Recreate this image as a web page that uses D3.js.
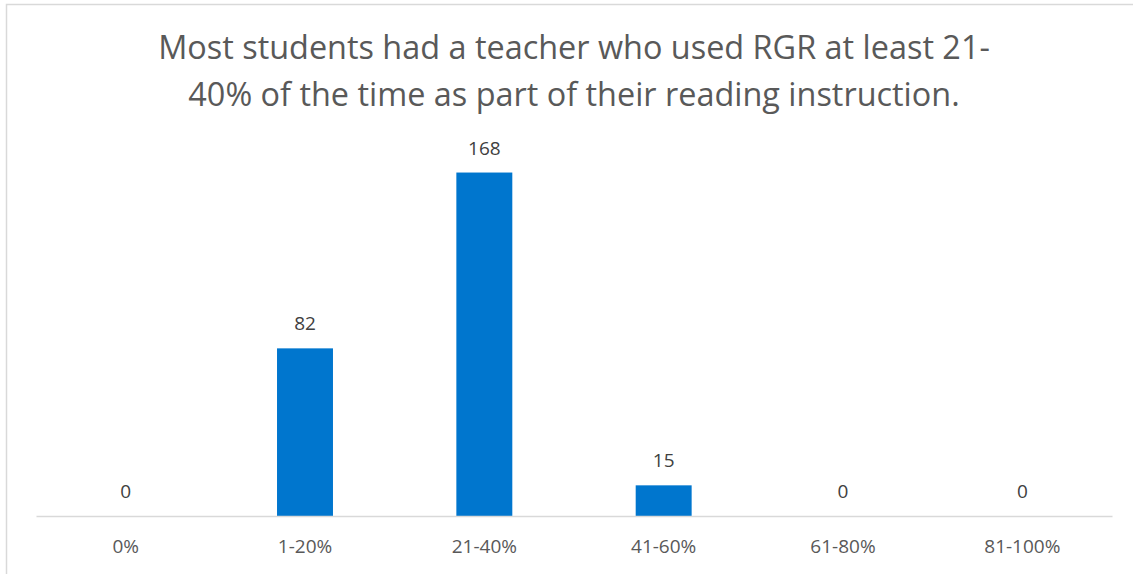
<!DOCTYPE html>
<html>
<head>
<meta charset="utf-8">
<script src="https://cdn.jsdelivr.net/npm/d3@7"></script>
<style>
  body { margin: 0; background: #fff; }
  svg { display: block; }
</style>
</head>
<body>
<svg id="drawing_region"></svg>
<script>
// chart data
const categories = ["0%", "1-20%", "21-40%", "41-60%", "61-80%", "81-100%"];
const counts = [0, 82, 168, 15, 0, 0];
const titleLines = [
    "Most students had a teacher who used RGR at least 21-",
    "40% of the time as part of their reading instruction."
];

const width = 1133, height = 574;
const margin = {top: 148, right: 21, bottom: 58, left: 36};
const font = "'Open Sans', 'Liberation Sans', sans-serif";

const svg = d3.select('#drawing_region')
    .attr('width', width)
    .attr('height', height);

// chart area frame
svg.append('rect')
    .attr('x', 6.5).attr('y', 4.5)
    .attr('width', width + 20).attr('height', height + 20)
    .attr('fill', '#fff')
    .attr('stroke', '#d9d9d9')
    .attr('stroke-width', 1.5);

// title
const title = svg.append('g');
title.selectAll('text')
    .data(titleLines).enter()
    .append('text')
    .attr('x', 574)
    .attr('y', (d, i) => 59 + i * 47)
    .attr('text-anchor', 'middle')
    .style('font-family', font)
    .style('font-size', '30px')
    .attr('fill', '#595959')
    .text(d => d);

// shrink title to the width it has in the picture
let w0 = title.select('text').node().getComputedTextLength();
let fs = 30 * 832 / w0;
title.selectAll('text').style('font-size', fs + 'px');

const x = d3.scaleBand()
    .domain(categories)
    .range([margin.left, width - margin.right])
    .paddingInner(0.688)
    .paddingOuter(0.344);

const y = d3.scaleLinear()
    .domain([0, 180])
    .range([height - margin.bottom, margin.top]);

const chart = svg.append('g');

chart.selectAll('rect.bar')
    .data(counts).enter()
    .append('rect')
    .attr('class', 'bar')
    .attr('x', (d, i) => x(categories[i]))
    .attr('y', d => y(d))
    .attr('width', x.bandwidth())
    .attr('height', d => y(0) - y(d))
    .attr('fill', '#0076CE');

// x axis
const xAxis = svg.append('g')
    .attr('transform', `translate(0, ${y(0)})`)
    .call(d3.axisBottom(x).tickSize(0).tickPadding(24));
xAxis.select('.domain')
    .attr('stroke', '#d9d9d9')
    .attr('stroke-width', 1.5);
xAxis.selectAll('text')
    .style('font-family', font)
    .style('font-size', '19px')
    .attr('fill', '#595959');

// value labels
chart.selectAll('text.val')
    .data(counts).enter()
    .append('text')
    .attr('class', 'val')
    .attr('x', (d, i) => x(categories[i]) + x.bandwidth() / 2)
    .attr('y', d => y(d) - 18)
    .attr('text-anchor', 'middle')
    .style('font-family', font)
    .style('font-size', '19px')
    .attr('fill', '#404040')
    .text(d => d);
</script>
</body>
</html>
